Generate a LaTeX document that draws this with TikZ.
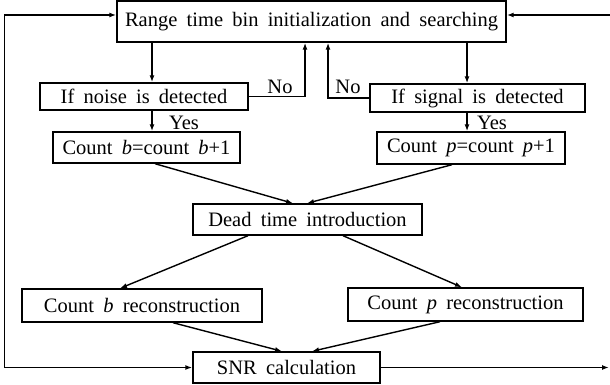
\documentclass[tikz,border=0pt]{standalone}
\usepackage{fontspec}
\setmainfont{Liberation Serif}[WordSpace=1.8]
\usetikzlibrary{arrows.meta}

\begin{document}
\begin{tikzpicture}[x=1pt, y=-1pt, line width=1.4pt, >={Latex[length=7pt,width=5pt]},
        blk/.style={draw, inner sep=0pt, font=\fontsize{20.5}{23}\selectfont},
        lbl/.style={inner sep=0pt, font=\fontsize{20.5}{23}\selectfont}]
        \useasboundingbox (0,0) rectangle (610,385);

        \node[blk, minimum width=389, minimum height=41] (range) at (311.5, 21.5) {Range time bin initialization and searching};
        \node[blk, minimum width=208, minimum height=27] (noise) at (144, 96.5) {If noise is detected};
        \node[blk, minimum width=215, minimum height=28] (signal) at (477.5, 98) {If signal is detected};
        \node[blk, minimum width=187, minimum height=31] (countb) at (146.5, 147.5) {Count \textit{b}=count \textit{b}+1};
        \node[blk, minimum width=188, minimum height=32] (countp) at (471, 148) {Count \textit{p}=count \textit{p}+1};
        \node[blk, minimum width=229, minimum height=31] (dead) at (307.5, 219.5) {Dead time introduction};
        \node[blk, minimum width=240, minimum height=33] (reconb) at (142, 305.5) {Count \textit{b} reconstruction};
        \node[blk, minimum width=235, minimum height=33] (reconp) at (465.5, 304.5) {Count \textit{p} reconstruction};
        \node[blk, minimum width=187, minimum height=31] (snr) at (286.5, 367.5) {SNR calculation};

        \node[lbl] (nob) at (280, 87) {No};
        \node[lbl] (nop) at (348, 87) {No};
        \node[lbl] (yesb) at (184, 123) {Yes};
        \node[lbl] (yesp) at (492, 123) {Yes};

        \coordinate (rtop) at (610, 15);
        \coordinate (rbot) at (609, 367.5);

        \draw[->] (range.south -| 152,0) -- (noise.north -| 152,0);
        \draw[->] (range.south -| 467,0) -- (signal.north -| 467,0);
        \draw[->] (noise.east) -| (range.south -| 305,0);
        \draw[->] (signal.west) -| (range.south -| 328,0);
        \draw[->] (noise.south -| 152,0) -- (countb.north -| 152,0);
        \draw[->] (signal.south -| 467,0) -- (countp.north -| 467,0);
        \draw[->] (countb.south -| 155,0) -- (dead.north -| 293,0);
        \draw[->] (countp.south -| 452,0) -- (dead.north -| 307,0);
        \draw[->] (dead.south -| 248,0) -- (reconb.north -| 120,0);
        \draw[->] (dead.south -| 343,0) -- (reconp.north -| 462,0);
        \draw[->] (reconb.south -| 173,0) -- (snr.north -| 282,0);
        \draw[->] (reconp.south -| 440,0) -- (snr.north -| 312,0);
        \draw[<->] ([yshift=6.5pt]range.west) -- ++(-112,0) |- (snr.west);
        \draw[->] (rtop) -- ([yshift=6.5pt]range.east);
        \draw[->] (snr.east) -- (rbot);
    \end{tikzpicture}
\end{document}
